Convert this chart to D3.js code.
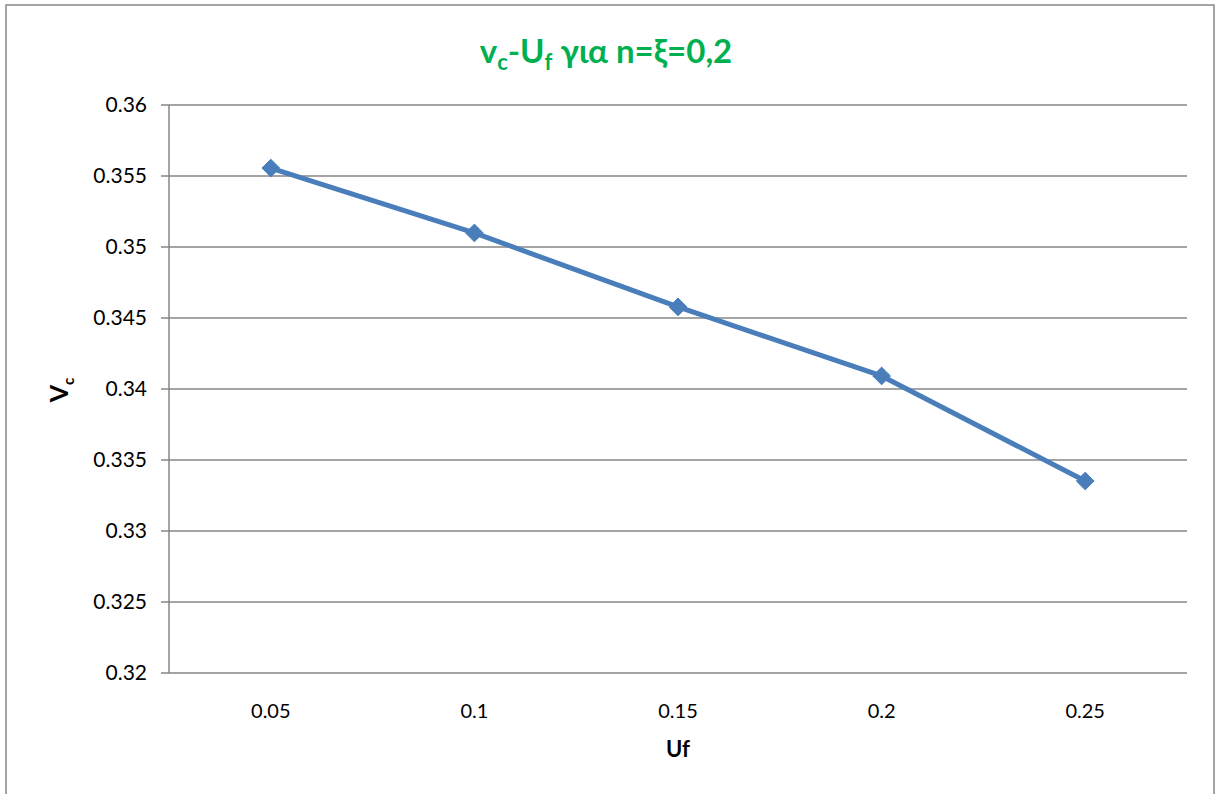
<!DOCTYPE html>
<html><head><meta charset="utf-8">
<script src="https://cdn.jsdelivr.net/npm/d3@7"></script>
<style>
html,body{margin:0;padding:0;background:#fff;}
svg{display:block;font-family:Lato,"Open Sans",sans-serif;}
</style></head>
<body>
<script>
const categories = ["0.05","0.1","0.15","0.2","0.25"];
const vcValues = [0.35556, 0.35099, 0.34578, 0.34092, 0.33352];
const yTicks = [0.32,0.325,0.33,0.335,0.34,0.345,0.35,0.355,0.36];
const yTickLabels = ["0.32","0.325","0.33","0.335","0.34","0.345","0.35","0.355","0.36"];

const W = 1215, H = 794;
const svg = d3.select("body").append("svg").attr("width", W).attr("height", H);

svg.append("rect").attr("x",6).attr("y",5).attr("width",1208).attr("height",800)
  .attr("fill","#fff").attr("stroke","#868686").attr("stroke-width",1.5);

const plot = {left:169, right:1187, top:105, bottom:673};
const x = d3.scaleBand().domain(categories).range([plot.left, plot.right]).padding(0);
const y = d3.scaleLinear().domain([0.32,0.36]).range([plot.bottom, plot.top]);

svg.append("g").selectAll("line").data(yTicks).join("line")
  .attr("x1", plot.left-8).attr("x2", plot.right)
  .attr("y1", d=>y(d)).attr("y2", d=>y(d))
  .attr("stroke","#868686").attr("stroke-width",1.5);

svg.append("line").attr("x1",plot.left).attr("x2",plot.left)
  .attr("y1",plot.top).attr("y2",plot.bottom)
  .attr("stroke","#868686").attr("stroke-width",1.5);

svg.append("g").selectAll("text").data(yTicks).join("text")
  .attr("x", plot.left-22).attr("y", d=>y(d)).attr("dy","0.35em")
  .attr("text-anchor","end").attr("font-size",21).attr("fill","#000")
  .text((d,i)=>yTickLabels[i]);

svg.append("g").selectAll("text").data(categories).join("text")
  .attr("x", d=>x(d)+x.bandwidth()/2).attr("y", 718)
  .attr("text-anchor","middle").attr("font-size",20).attr("fill","#000")
  .text(d=>d);

svg.append("text").attr("x",678).attr("y",757).attr("text-anchor","middle")
  .attr("font-size",22).attr("font-weight","bold").text("Uf");

const yt = svg.append("text").attr("transform","translate(68,390) rotate(-90)")
  .attr("text-anchor","middle").attr("font-size",25).attr("font-weight","bold");
yt.append("tspan").text("V");
yt.append("tspan").attr("font-size",15).attr("dy",6).text("c");

const t = svg.append("text").attr("x",606).attr("y",63).attr("text-anchor","middle")
  .attr("font-size",33).attr("font-weight","bold").attr("fill","#00B050");
t.append("tspan").text("v");
t.append("tspan").attr("font-size",22).attr("dy",7).text("c");
t.append("tspan").attr("dy",-7).text("-U");
t.append("tspan").attr("font-size",22).attr("dy",7).text("f");
t.append("tspan").attr("dy",-7).text(" για n=ξ=0,2");

const pts = categories.map((c,i)=>({c, v:vcValues[i]}));
svg.append("path").datum(pts)
  .attr("d", d3.line().x(d=>x(d.c)+x.bandwidth()/2).y(d=>y(d.v)))
  .attr("fill","none").attr("stroke","#4A7EBB").attr("stroke-width",5)
  .attr("stroke-linejoin","round");

svg.append("g").selectAll("path").data(pts).join("path")
  .attr("transform", d=>`translate(${x(d.c)+x.bandwidth()/2},${y(d.v)})`)
  .attr("d", d3.symbol().type(d3.symbolDiamond2).size(200))
  .attr("fill","#4A7EBB").attr("stroke","#4A7EBB").attr("stroke-width",1);
</script>
</body></html>
